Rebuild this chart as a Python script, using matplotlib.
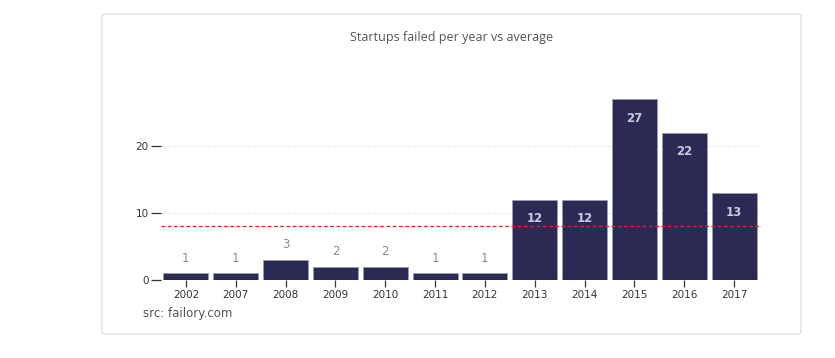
import matplotlib
matplotlib.use('Agg')
import matplotlib.pyplot as plt
from matplotlib.patches import FancyBboxPatch

years = ['2002', '2007', '2008', '2009', '2010', '2011', '2012',
         '2013', '2014', '2015', '2016', '2017']
failed = [1, 1, 3, 2, 2, 1, 1, 12, 12, 27, 22, 13]
average = sum(failed) / len(failed)

W, H = 835, 358
fig = plt.figure(figsize=(W / 100, H / 100), dpi=100)
fig.patch.set_facecolor('white')

# card frame, kept behind the axes
card = FancyBboxPatch((102 / W, 1 - 334 / H), 699 / W, 320 / H,
                      boxstyle="round,pad=0,rounding_size=0.004",
                      transform=fig.transFigure, facecolor='white',
                      edgecolor='#e2e2e2', linewidth=1.0, zorder=-10)
fig.patches.append(card)

ax = fig.add_axes([161 / W, 1 - 280 / H, 598 / W, 181 / H])
ax.set_zorder(5)
ax.set_facecolor('none')

x = range(len(years))
ax.bar(x, failed, width=0.9, color='#2b2a55', edgecolor='#9a9ab8',
       linewidth=0.6, zorder=3)

ax.set_xlim(-0.5, len(years) - 0.5)
ax.set_ylim(0, 27)

# average line
ax.axhline(average, color='#e8201a', linestyle=(0, (3, 2)), linewidth=0.9, zorder=4)

# grid
for v in [0, 10, 20]:
    ax.axhline(v, color='#d8d8d8', linestyle=(0, (1, 2)), linewidth=0.8, zorder=1)

# value labels
for i, v in enumerate(failed):
    if v >= 10:
        ax.annotate(str(v), (i, v), xytext=(0, -14), textcoords='offset points',
                    ha='center', va='center', fontsize=8.5, fontweight='bold',
                    color='#c9c9dc', zorder=5)
    else:
        ax.annotate(str(v), (i, v), xytext=(0, 11), textcoords='offset points',
                    ha='center', va='center', fontsize=8.5, color='#888888',
                    zorder=5)

ax.set_xticks(list(x))
ax.set_xticklabels(years)
ax.set_yticks([0, 10, 20])
ax.tick_params(axis='x', length=5, width=0.9, color='#333333', labelsize=7.5,
               labelcolor='#333333', pad=2)
ax.tick_params(axis='y', length=7, width=0.9, color='#333333', labelsize=7.5,
               labelcolor='#333333', pad=2)
for s in ax.spines.values():
    s.set_visible(False)

fig.text(452 / W, 1 - 37 / H, 'Startups failed per year vs average',
         ha='center', va='center', fontsize=9, color='#555555',
         family='Open Sans')
fig.text(143 / W, 1 - 313 / H, 'src: failory.com', ha='left', va='center',
         fontsize=8.5, color='#555555', family='DejaVu Sans')

plt.savefig('out.png', dpi=100)
plt.close()
